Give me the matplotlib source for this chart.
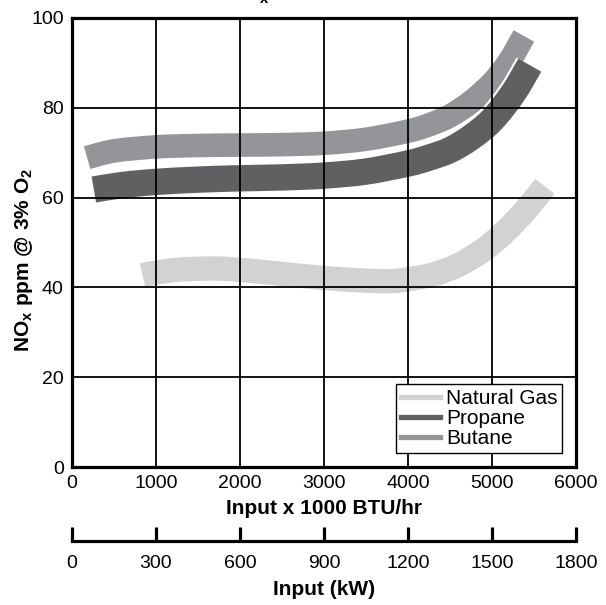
import matplotlib
matplotlib.use('Agg')
import matplotlib.pyplot as plt
import matplotlib.patheffects as pe
from matplotlib.lines import Line2D
from matplotlib.path import Path
from matplotlib.patches import PathPatch

plt.rcParams['font.family'] = ['Liberation Sans', 'DejaVu Sans']
plt.rcParams['mathtext.fontset'] = 'custom'
plt.rcParams['mathtext.rm'] = 'Liberation Sans'
plt.rcParams['mathtext.bf'] = 'Liberation Sans:bold'

# NOx readings (ppm @ 3% O2) vs input x 1000 BTU/hr
butane_x = [180, 500, 1000, 1500, 2000, 2500, 3000, 3500, 4000, 4250, 4500, 4750, 5000, 5200, 5380]
butane_y = [68.9, 70.4, 71.3, 71.6, 71.7, 71.8, 72.1, 73.0, 74.8, 76.2, 78.2, 81.3, 85.5, 90.2, 96.0]

propane_x = [260, 600, 1000, 1500, 2000, 2500, 3000, 3500, 4000, 4250, 4500, 4750, 5000, 5250, 5450]
propane_y = [61.8, 62.8, 63.5, 64.0, 64.3, 64.5, 64.9, 65.8, 67.6, 68.9, 70.6, 73.4, 77.3, 83.2, 89.5]

natgas_x = [840, 1000, 1300, 1700, 2000, 2500, 3000, 3500, 3800, 4000, 4300, 4600, 4900, 5150, 5400, 5630]
natgas_y = [42.7, 43.3, 44.0, 44.2, 43.9, 43.0, 42.1, 41.5, 41.4, 41.8, 42.9, 45.0, 48.4, 52.3, 57.2, 62.5]

names = ['Natural Gas', 'Propane', 'Butane']
colors = {'Natural Gas': '#d1d2d4', 'Propane': '#5f6062', 'Butane': '#939598'}

btu_ticks = [0, 1000, 2000, 3000, 4000, 5000, 6000]
kw_ticks = [0, 300, 600, 900, 1200, 1500, 1800]
ppm_ticks = [0, 20, 40, 60, 80, 100]


def band(ax, xs, ys, color, lw, zorder, effects=None):
    # smooth curve through the read points (Catmull-Rom as cubic Bezier)
    pts = list(zip(xs, ys))
    verts = [pts[0]]
    codes = [Path.MOVETO]
    n = len(pts)
    for i in range(n - 1):
        p0 = pts[max(i - 1, 0)]
        p1 = pts[i]
        p2 = pts[i + 1]
        p3 = pts[min(i + 2, n - 1)]
        c1 = (p1[0] + (p2[0] - p0[0]) / 6, p1[1] + (p2[1] - p0[1]) / 6)
        c2 = (p2[0] - (p3[0] - p1[0]) / 6, p2[1] - (p3[1] - p1[1]) / 6)
        verts += [c1, c2, p2]
        codes += [Path.CURVE4] * 3
    patch = PathPatch(Path(verts, codes), fill=False, edgecolor=color, lw=lw,
                      capstyle='butt', joinstyle='round', zorder=zorder)
    if effects:
        patch.set_path_effects(effects)
    ax.add_patch(patch)


fig = plt.figure(figsize=(6.06, 6.05), dpi=100)
left, width = 72 / 606, 504 / 606
ax = fig.add_axes([left, 1 - 467 / 605, width, (467 - 18) / 605])

# bands drawn under the grid
band(ax, butane_x, butane_y, colors['Butane'], 17, 1)
band(ax, natgas_x, natgas_y, colors['Natural Gas'], 17.5, 1)
band(ax, propane_x, propane_y, colors['Propane'], 19, 1.2,
     [pe.Stroke(linewidth=22, foreground='white'), pe.Normal()])

ax.set_xlim(0, 6000)
ax.set_ylim(0, 100)
ax.set_xticks(btu_ticks)
ax.set_yticks(ppm_ticks)
ax.set_axisbelow(False)
ax.grid(True, color='black', lw=1.3)
ax.tick_params(length=0, labelsize=14, pad=6)
for s in ax.spines.values():
    s.set_linewidth(2.3)

ax.set_xlabel('Input x 1000 BTU/hr', fontsize=15, fontweight='bold', labelpad=5)
ax.set_ylabel(r'NO$_\mathbf{x}$ ppm @ 3% O$_\mathbf{2}$', fontsize=15, fontweight='bold')
ax.yaxis.set_label_coords(-0.073, 0.46)

handles = [Line2D([], [], color=colors[n], lw=3.8) for n in names]
leg = ax.legend(handles, names, loc='lower right', fontsize=15, fancybox=False,
                framealpha=1, edgecolor='black', borderpad=0.25, labelspacing=0.05,
                handlelength=1.85, handletextpad=0.3, borderaxespad=0.65)
leg.get_frame().set_linewidth(1.0)
leg.set_zorder(5)

# second scale in kW
ax2 = fig.add_axes([left, 1 - 541 / 605, width, 1e-6])
ax2.set_facecolor('none')
for k in ['top', 'left', 'right']:
    ax2.spines[k].set_visible(False)
ax2.spines['bottom'].set_linewidth(2.3)
ax2.set_xlim(0, 1800)
ax2.set_xticks(kw_ticks)
ax2.set_yticks([])
ax2.tick_params(axis='x', direction='in', length=10, width=2.3, labelsize=14, pad=10)
ax2.set_xlabel('Input (kW)', fontsize=15, fontweight='bold', labelpad=6)

fig.text(0.535, 1.0, r'NO$_\mathbf{x}$ Emission Data', ha='center', va='baseline',
         fontsize=15, fontweight='bold')

fig.savefig('out.png', dpi=100)
